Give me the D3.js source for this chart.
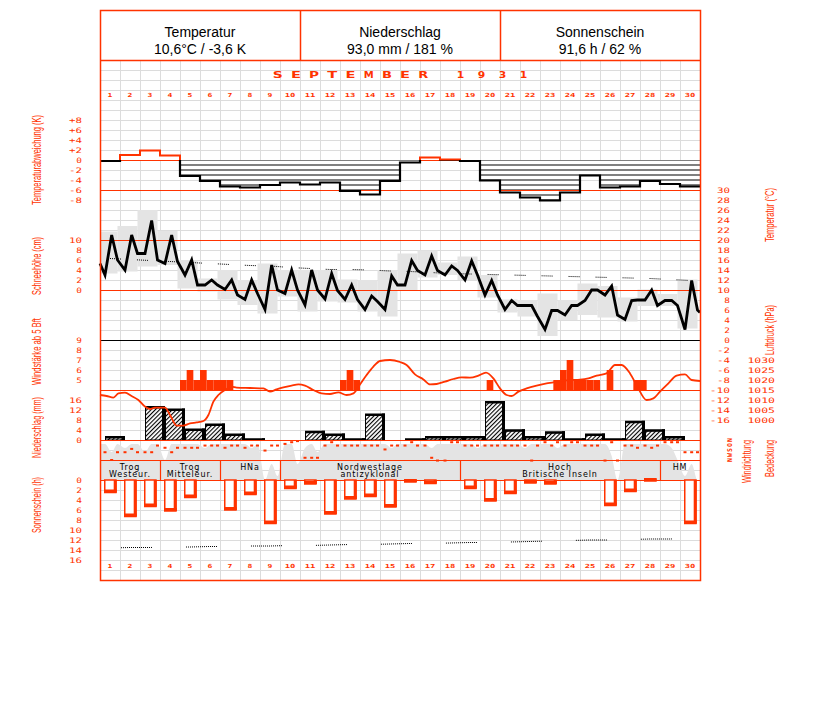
<!DOCTYPE html>
<html>
<head>
<meta charset="utf-8">
<title>September 1931</title>
<script src="https://cdn.jsdelivr.net/npm/d3@7/dist/d3.min.js"></script>
<style>
  body { margin: 0; background: #fff; }
</style>
</head>
<body>
<div id="chart"></div>
<script>
// ---- data ----
const days = [1,2,3,4,5,6,7,8,9,10,11,12,13,14,15,16,17,18,19,20,21,22,23,24,25,26,27,28,29,30];
const readingHours = [6, 14, 21];

const header = ['Temperatur', 'Niederschlag', 'Sonnenschein'];
const headerValues = ['10,6°C / -3,6 K', '93,0 mm / 181 %', '91,6 h / 62 %'];

// daily temperature anomaly (K)
const anomaly = [-0.2, 1.0, 1.9, 0.9, -3.2, -4.2, -5.3, -5.5, -5.0, -4.5, -4.9, -4.5, -6.2, -6.9, -4.2,
                 -0.5, 0.5, 0.1, -0.2, -4.1, -6.5, -7.5, -8.1, -6.5, -3.1, -5.5, -5.3, -4.2, -4.8, -5.3];

// temperature readings (°C)
const temp06 = [13, 14, 17.3, 15.3, 13, 11, 10.1, 8.1, 6.1, 9.3, 7, 8.2, 8.1, 6.1, 6.1,
                11, 13, 13, 12, 9, 6.1, 6.9, 2.1, 5, 7.9, 9, 4.1, 8, 7.9, 2.1];
const temp14 = [21, 21, 23.9, 21, 16, 12, 12, 12, 15, 14, 14, 13.3, 11, 8.8, 12.8,
                15.9, 16.8, 14.8, 15.8, 11.9, 7.9, 6.9, 5.9, 6.9, 10, 10.8, 7.9, 10, 7.9, 11.9];
const temp21 = [16, 17.3, 16, 15.7, 11, 11, 9, 9.3, 10, 10, 10, 9.9, 8.1, 7.7, 11,
                13.9, 13.9, 13.9, 13, 9, 6.9, 4.7, 5.9, 6.9, 10, 5, 8, 6.9, 6.9, 6];
const tempEdges = [15.3, 5.5]; // value at start and end of the month
const tempMax = [21.7, 22.8, 26, 21.8, 16, 12.3, 14, 12, 15.3, 14, 14, 14, 12.1, 12, 14,
                 17.3, 17.9, 15.5, 16.7, 13, 8.1, 8, 9.3, 8, 11.3, 10.8, 8.5, 10.1, 9.2, 12.1];
const tempMin = [13.3, 13.7, 14.7, 15, 10.3, 9.7, 8.1, 7, 5.3, 8.7, 5.7, 7.7, 7.5, 5.7, 4.7,
                 10, 12.5, 13, 12, 8.5, 5.5, 4.7, 0.8, 4, 5, 4.5, 3.7, 6.8, 6.8, 2.3];
const tempNormal = [16.3, 16.1, 15.9, 15.7, 15.5, 15.3, 15.1, 14.9, 14.8, 14.5, 14.3, 14.1, 14.1, 14.0, 13.8,
                    13.7, 13.5, 13.3, 13.2, 13.1, 13.0, 12.9, 12.8, 12.7, 12.6, 12.5, 12.4, 12.3, 12.1, 11.9];

// wind force >= 5 Bft per reading (0 = below 5)
const wind06 = [0,0,0,0,5,6,5,0,0,0,0,0,5,0,0,0,0,0,0,0,0,0,0,6,5,0,0,5,0,0];
const wind14 = [0,0,0,0,6,5,5,0,0,0,0,0,6,0,0,0,0,0,0,5,0,0,0,7,5,6,0,0,0,0];
const wind21 = [0,0,0,0,5,5,0,0,0,0,0,0,5,0,0,0,0,0,0,0,0,0,5,5,5,0,5,0,0,0];

// air pressure [day position, hPa]
const pressure = [[0,1012.5],[0.33,1012],[0.67,1011.2],[0.92,1013.3],[1.25,1013.7],[1.58,1012],[1.92,1010],
  [2.25,1006.7],[2.5,1005.5],[2.75,1006.2],[3.25,1006.2],[3.5,1002.5],[3.83,997.2],[4.17,997.2],[4.5,998.3],
  [4.83,998.8],[5.17,999.5],[5.42,1002.5],[5.67,1009.2],[5.92,1012.5],[6.25,1015],[6.58,1016.7],[6.83,1016.2],
  [7.5,1016],[8.17,1015.8],[8.5,1014.2],[8.83,1015.3],[9.17,1016.3],[9.58,1017.2],[9.92,1017.8],[10.25,1017.2],
  [10.67,1015],[11.08,1013.3],[11.5,1013],[11.92,1013.8],[12.33,1012.5],[12.67,1013.3],[13,1017.8],[13.33,1022.5],
  [13.67,1026.7],[14,1029.5],[14.5,1030],[15,1029],[15.33,1027.5],[15.75,1022.8],[16.17,1020.3],[16.5,1017.8],
  [16.83,1018],[17.25,1019.2],[17.67,1020.5],[18.08,1021.3],[18.5,1021.2],[18.92,1022.2],[19.3,1023.7],
  [19.67,1020.8],[20,1015.8],[20.33,1012.5],[20.58,1012],[20.92,1014.2],[21.33,1015.8],[21.83,1017.2],
  [22.33,1018.3],[22.67,1018.8],[23,1019.5],[23.5,1020],[24,1020.2],[24.42,1020.8],[24.83,1022.2],[25.33,1023.3],
  [25.75,1027.5],[26.08,1027.5],[26.5,1023.3],[26.83,1017.5],[27.33,1010],[27.67,1010.8],[28,1014.2],
  [28.42,1018.3],[28.83,1022.2],[29.25,1022.8],[29.58,1020],[30,1019.5]];

// precipitation (mm), measured 6 h to 6 h
const precip = [1.0, 0, 13.0, 12, 4, 6, 2, 0.1, 0, 0, 3.1, 2, 0.1, 10, 0,
                0.1, 1, 1, 1, 15, 3.7, 1, 2.9, 0.1, 2, 0.1, 7.1, 3.7, 1, 0];

// cloud cover (tenths) per reading
const cloud06 = [9,8,7,5,9,8,9,9,0,9,8,9,9,9,9,9,9,9,9,9,9,8,9,9,9,9,9,9,9,1];
const cloud14 = [7,9,9,9,9,9,9,8,4,9,9,9,9,9,8,9,8,9,9,9,9,9,9,9,9,6,9,9,8,4];
const cloud21 = [9,9,9,9,9,9,9,9,1,4,7,9,9,9,9,9,9,9,8,9,9,9,8,9,9,0,9,9,5,0];

// wind direction (degrees, 360 = N at the bottom) per reading
const dir06 = [220,220,220,140,140,100,140,140,190,70,320,100,100,100,170,100,100,370,100,100,100,100,40,100,100,370,100,100,40,220];
const dir14 = [360,160,220,220,140,100,100,100,100,40,320,40,100,100,100,40,320,40,100,100,100,370,100,40,100,40,100,140,40,220];
const dir21 = [220,220,100,140,140,100,100,100,100,20,320,100,100,100,100,100,370,40,100,100,100,100,40,40,100,370,140,100,40,220];

// weather types
const typeLabels = [['Trog', 'Westeur.'], ['Trog', 'Mitteleur.'], ['HNa'], ['Nordwestlage', 'antizyklonal'],
                    ['Hoch', 'Britische Inseln'], ['HM']];
const typeFirst = [1, 4, 7, 10, 19, 29];
const typeLast = [3, 6, 9, 18, 28, 30];

// sunshine (h) and possible sunshine (h)
const sunshine = [2.5, 7.3, 5.3, 6.2, 3.5, 0, 6.0, 2.9, 8.7, 1.7, 0.8, 6.8, 3.8, 3.3, 5.4,
                  0.4, 0.7, 0, 1.7, 4.2, 2.7, 0.6, 0.8, 0, 0, 5.1, 2.3, 0.2, 0, 8.7];
const sunPossible = [13.6, 13.5, 13.5, 13.4, 13.4, 13.3, 13.3, 13.2, 13.2, 13.1, 13.1, 13.0, 12.9, 12.9, 12.8,
                     12.7, 12.7, 12.6, 12.5, 12.5, 12.4, 12.3, 12.2, 12.1, 12.0, 12.0, 11.9, 11.8, 11.8, 11.7];

// tick labels
const anomTicks = [8, 6, 4, 2, 0, -2, -4, -6, -8];
const snowTicks = [10, 8, 6, 4, 2, 0];
const windTicks = [9, 8, 7, 6, 5];
const precipTicks = [16, 12, 8, 4, 0];
const sunTicks = [0, 2, 4, 6, 8, 10, 12, 14, 16];
const tempTicks = [30,28,26,24,22,20,18,16,14,12,10,8,6,4,2,0,-2,-4,-6,-8,-10,-12,-14,-16];
const pressTicks = [1030, 1025, 1020, 1015, 1010, 1005, 1000];
const dirTicks = [[0,'N'],[90,'O'],[180,'S'],[270,'W'],[360,'N']];

// ---- layout ----
const W = 827, H = 702;
const L = 100, R = 700, TOP = 60, BOT = 580;
const RED = '#ff3300', GRAY = '#e4e4e4', GRID = '#dcdcdc';
const PIX = 'DejaVu Sans Mono';

const svg = d3.select('#chart').append('svg')
    .attr('width', W)
    .attr('height', H)
    .style('background', '#fff');

const x = d3.scaleLinear().domain([0, 30]).range([L, R]);
const xDay = d3.scaleBand().domain(days).range([L, R]);
const yAnom = d3.scaleLinear().domain([0, -8]).range([160, 200]);
const yTemp = d3.scaleLinear().domain([0, 30]).range([340, 190]);
const ySnow = d3.scaleLinear().domain([0, 10]).range([290, 240]);
const yWind = d3.scaleLinear().domain([4, 9]).range([390, 340]);
const yPres = d3.scaleLinear().domain([1000, 1030]).range([420, 360]);
const yPrec = d3.scaleLinear().domain([0, 16]).range([440, 400]);
const yCloud = d3.scaleLinear().domain([0, 10]).range([480, 440]);
const yDir = d3.scaleLinear().domain([0, 360]).range([440, 460]);
const ySun = d3.scaleLinear().domain([0, 16]).range([480, 560]);

const defs = svg.append('defs');
const hl = defs.append('pattern').attr('id', 'hlines')
    .attr('patternUnits', 'userSpaceOnUse').attr('x', 0).attr('y', 159.5)
    .attr('width', 10).attr('height', 5);
hl.append('rect').attr('width', 10).attr('height', 5).attr('fill', '#fff');
hl.append('rect').attr('width', 10).attr('height', 1).attr('fill', '#000');
const dg = defs.append('pattern').attr('id', 'diag')
    .attr('patternUnits', 'userSpaceOnUse').attr('width', 3).attr('height', 3)
    .attr('patternTransform', 'rotate(45)');
dg.append('rect').attr('width', 3).attr('height', 3).attr('fill', '#fff');
dg.append('rect').attr('width', 1.1).attr('height', 3).attr('fill', '#000');
defs.append('clipPath').attr('id', 'above').append('rect')
    .attr('x', L).attr('y', 100).attr('width', R - L).attr('height', 60);
defs.append('clipPath').attr('id', 'below').append('rect')
    .attr('x', L).attr('y', 160).attr('width', R - L).attr('height', 60);
defs.append('clipPath').attr('id', 'plot').append('rect')
    .attr('x', L).attr('y', TOP).attr('width', R - L).attr('height', BOT - TOP);

// ---- grid ----
const grid = svg.append('g').attr('shape-rendering', 'crispEdges');
grid.selectAll('line.h').data(d3.range(TOP + 10, BOT, 10)).join('line')
    .attr('x1', L).attr('x2', R).attr('y1', d => d + 0.5).attr('y2', d => d + 0.5)
    .attr('stroke', GRID);
grid.selectAll('line.v').data(days.slice(1)).join('line')
    .attr('x1', d => xDay(d) + 0.5).attr('x2', d => xDay(d) + 0.5)
    .attr('y1', TOP).attr('y2', BOT)
    .attr('stroke', GRID);

const plot = svg.append('g').attr('clip-path', 'url(#plot)');

// ---- temperature min/max boxes ----
plot.append('g').selectAll('rect').data(days).join('rect')
    .attr('x', (d, i) => x(Math.max(0, i - 3 / 24)))
    .attr('width', (d, i) => x(i + 21 / 24) - x(Math.max(0, i - 3 / 24)))
    .attr('y', (d, i) => yTemp(tempMax[i]))
    .attr('height', (d, i) => yTemp(tempMin[i]) - yTemp(tempMax[i]))
    .attr('fill', GRAY);

// ---- cloud cover ----
const cloudPts = [{ t: 0, v: cloud06[0] }];
days.forEach((d, i) => {
    [cloud06, cloud14, cloud21].forEach((arr, k) => cloudPts.push({ t: i + readingHours[k] / 24, v: arr[i] }));
});
cloudPts.push({ t: 30, v: cloud21[29] });
plot.append('path').datum(cloudPts)
    .attr('d', d3.area().curve(d3.curveMonotoneX).x(d => x(d.t)).y0(yCloud(0)).y1(d => yCloud(d.v)))
    .attr('fill', GRAY);

// ---- temperature anomaly ----
const anomPts = anomaly.map((v, i) => ({ t: i, v }));
anomPts.push({ t: 30, v: anomaly[29] });
plot.append('path').datum(anomPts)
    .attr('d', d3.area().curve(d3.curveStepAfter).x(d => x(d.t)).y0(yAnom(0)).y1(d => yAnom(Math.min(0, d.v))))
    .attr('fill', 'url(#hlines)');
plot.append('path').datum(anomPts)
    .attr('d', d3.area().curve(d3.curveStepAfter).x(d => x(d.t)).y0(yAnom(0)).y1(d => yAnom(Math.max(0, d.v))))
    .attr('fill', '#fff');
plot.append('g').selectAll('line').data(days.filter((d, i) => anomaly[i] > 0)).join('line')
    .attr('x1', d => xDay(d)).attr('x2', d => xDay(d) + xDay.bandwidth())
    .attr('y1', yAnom(0) + 0.5).attr('y2', yAnom(0) + 0.5)
    .attr('stroke', RED);
const anomLine = d3.line().curve(d3.curveStepAfter).x(d => x(d.t)).y(d => yAnom(d.v));
svg.append('path').datum(anomPts).attr('d', anomLine).attr('clip-path', 'url(#above)')
    .attr('fill', 'none').attr('stroke', RED).attr('stroke-width', 2);

// ---- wind force bars ----
const windBars = [];
days.forEach((d, i) => {
    [wind06, wind14, wind21].forEach((arr, k) => { if (arr[i] >= 5) windBars.push({ t: i + k / 3, v: arr[i] }); });
});
plot.append('g').selectAll('rect').data(windBars).join('rect')
    .attr('x', d => x(d.t)).attr('width', x(1 / 3) - x(0))
    .attr('y', d => yWind(d.v)).attr('height', d => yWind(4) - yWind(d.v))
    .attr('fill', RED);

// ---- precipitation bars ----
const precG = plot.append('g');
days.forEach((d, i) => {
    if (precip[i] <= 0) return;
    const x0 = x(i + 0.25), x1 = x(i + 1.25), y1 = yPrec(precip[i]);
    precG.append('rect').attr('x', x0 + 0.5).attr('y', y1).attr('width', x1 - x0 - 1).attr('height', yPrec(0) - y1)
        .attr('fill', 'url(#diag)').attr('stroke', '#000').attr('stroke-width', 1);
    precG.append('rect').attr('x', x0).attr('y', y1 - 1.5).attr('width', x1 - x0).attr('height', 2.5).attr('fill', '#000');
    precG.append('rect').attr('x', x1 - 3).attr('y', y1 - 1.5).attr('width', 3).attr('height', yPrec(0) - y1 + 1.5).attr('fill', '#000');
});

// ---- panel lines ----
const panelLines = [[190, RED], [240, RED], [290, RED], [340, '#000'], [390, RED], [440, RED], [460, RED], [480, RED]];
svg.append('g').attr('shape-rendering', 'crispEdges').selectAll('line').data(panelLines).join('line')
    .attr('x1', L).attr('x2', R).attr('y1', d => d[0] + 0.5).attr('y2', d => d[0] + 0.5)
    .attr('stroke', d => d[1]).attr('stroke-width', 1.2);

// anomaly bottom outline drawn over the panel line
svg.append('path').datum(anomPts).attr('d', anomLine).attr('clip-path', 'url(#below)')
    .attr('fill', 'none').attr('stroke', '#000').attr('stroke-width', 2.2);

// dotted helper
function dots(n, gap) {
    const a = [];
    for (let i = 0; i < n; i++) a.push(1, 1);
    a[a.length - 1] = gap;
    return a.join(',');
}

// ---- normal temperature ----
svg.append('path').datum(tempNormal)
    .attr('d', d3.line().x((v, i) => x(i + 0.5)).y(v => yTemp(v)))
    .attr('fill', 'none').attr('stroke', '#000').attr('stroke-width', 1)
    .attr('stroke-dasharray', dots(6, 16));

// ---- temperature curve ----
const tempPts = [{ t: 0, v: tempEdges[0] }];
days.forEach((d, i) => {
    [temp06, temp14, temp21].forEach((arr, k) => tempPts.push({ t: i + readingHours[k] / 24, v: arr[i] }));
});
tempPts.push({ t: 30, v: tempEdges[1] });
svg.append('path').datum(tempPts)
    .attr('d', d3.line().x(d => x(d.t)).y(d => yTemp(d.v)))
    .attr('fill', 'none').attr('stroke', '#000').attr('stroke-width', 2.8).attr('stroke-linejoin', 'miter');

// ---- pressure curve ----
svg.append('path').datum(pressure)
    .attr('d', d3.line().curve(d3.curveMonotoneX).x(d => x(d[0])).y(d => yPres(d[1])))
    .attr('fill', 'none').attr('stroke', RED).attr('stroke-width', 1.8);

// ---- wind direction ----
const dirPts = [];
days.forEach((d, i) => {
    [dir06, dir14, dir21].forEach((arr, k) => dirPts.push({ t: i + readingHours[k] / 24, v: arr[i] }));
});
plot.append('g').selectAll('rect').data(dirPts).join('rect')
    .attr('x', d => x(d.t) - 1.5).attr('y', d => yDir(d.v) - 1)
    .attr('width', 3).attr('height', 2).attr('fill', RED);

// ---- weather types ----
const typeG = svg.append('g');
typeLabels.forEach((lines, i) => {
    const x0 = xDay(typeFirst[i]), x1 = xDay(typeLast[i]) + xDay.bandwidth();
    if (typeLast[i] < 30) {
        typeG.append('line').attr('x1', x1 + 0.5).attr('x2', x1 + 0.5).attr('y1', 460).attr('y2', 480)
            .attr('stroke', RED).attr('stroke-width', 1.2);
    }
    lines.forEach((s, k) => {
        typeG.append('text').attr('x', (x0 + x1) / 2).attr('y', 469.5 + k * 7.5)
            .attr('text-anchor', 'middle').attr('font-family', 'DejaVu Sans').attr('font-size', 8)
            .attr('letter-spacing', 0.9).attr('fill', '#000').text(s);
    });
});

// ---- sunshine ----
const sunG = svg.append('g');
days.forEach((d, i) => {
    if (sunshine[i] <= 0) return;
    const x0 = xDay(d) + 4, w = 12.7, y1 = ySun(sunshine[i]);
    sunG.append('rect').attr('x', x0 + 0.75).attr('y', 480).attr('width', w - 1.5).attr('height', y1 - 480)
        .attr('fill', '#fff').attr('stroke', RED).attr('stroke-width', 1.5);
    sunG.append('rect').attr('x', x0 + w - 3).attr('y', 480).attr('width', 3).attr('height', y1 - 480).attr('fill', RED);
    sunG.append('rect').attr('x', x0).attr('y', y1 - 3).attr('width', w).attr('height', 3).attr('fill', RED);
});
svg.append('path').datum(sunPossible)
    .attr('d', d3.line().x((v, i) => x(i + 0.5)).y(v => ySun(v)))
    .attr('fill', 'none').attr('stroke', '#000').attr('stroke-width', 1)
    .attr('stroke-dasharray', dots(16, 34)).attr('stroke-dashoffset', 54);

// ---- frame and header ----
svg.append('rect').attr('x', L + 0.5).attr('y', 10.5).attr('width', R - L).attr('height', BOT - 10)
    .attr('fill', 'none').attr('stroke', RED).attr('stroke-width', 1.5);
svg.append('line').attr('x1', L).attr('x2', R).attr('y1', TOP + 0.5).attr('y2', TOP + 0.5)
    .attr('stroke', RED).attr('stroke-width', 1.5);
const cellW = (R - L) / header.length;
header.forEach((h, i) => {
    if (i > 0) {
        svg.append('line').attr('x1', L + i * cellW + 0.5).attr('x2', L + i * cellW + 0.5)
            .attr('y1', 10).attr('y2', TOP).attr('stroke', RED).attr('stroke-width', 1.5);
    }
    const cx = L + (i + 0.5) * cellW;
    svg.append('text').attr('x', cx).attr('y', 37.3).attr('text-anchor', 'middle')
        .attr('font-family', 'Liberation Sans, Arial, sans-serif').attr('font-size', 14).text(h);
    svg.append('text').attr('x', cx).attr('y', 54.3).attr('text-anchor', 'middle')
        .attr('font-family', 'Liberation Sans, Arial, sans-serif').attr('font-size', 14).text(headerValues[i]);
});

// title: wide, spaced capitals
[['SEPTEMBER', 272.7, 18.2, 10], ['1931', 456.7, 21, 7.5]].forEach(([s, x0, step, cw]) => {
    svg.append('g').selectAll('text').data(s.split('')).join('text')
        .attr('x', (c, k) => x0 + k * step).attr('y', 78.3)
        .attr('font-family', 'DejaVu Sans').attr('font-weight', 'bold').attr('font-size', 9.5)
        .attr('textLength', cw).attr('lengthAdjust', 'spacingAndGlyphs')
        .attr('fill', RED).text(c => c);
});

// day numbers
[97.3, 567.7].forEach(yy => {
    svg.append('g').selectAll('text').data(days).join('text')
        .attr('x', d => xDay(d) + xDay.bandwidth() / 2).attr('y', yy)
        .attr('text-anchor', 'middle')
        .attr('font-family', PIX).attr('font-weight', 'bold').attr('font-size', 5.6)
        .attr('textLength', d => String(d).length * 5.85 - 1)
        .attr('lengthAdjust', 'spacingAndGlyphs')
        .attr('fill', RED).text(d => d);
});

// ---- axes ----
function pixelAxis(scale, ticks, fmt, xpos) {
    const g = svg.append('g').attr('transform', `translate(${xpos},0)`)
        .call(d3.axisLeft(scale).tickValues(ticks).tickSize(0).tickPadding(0).tickFormat(fmt));
    g.select('.domain').remove();
    g.selectAll('text')
        .attr('fill', RED).attr('font-family', PIX).attr('font-size', 7.5)
        .attr('textLength', function () { return this.textContent.length * 7.3 - 1.6; })
        .attr('lengthAdjust', 'spacingAndGlyphs');
    return g;
}
const signFmt = d => d > 0 ? '+' + d : d < 0 ? '-' + (-d) : '0';
const plainFmt = d => d < 0 ? '-' + (-d) : String(d);
pixelAxis(yAnom, anomTicks, signFmt, 82);
pixelAxis(ySnow, snowTicks, plainFmt, 82);
pixelAxis(yWind, windTicks, plainFmt, 82);
pixelAxis(yPrec, precipTicks, plainFmt, 82);
pixelAxis(ySun, sunTicks, plainFmt, 82);
pixelAxis(yTemp, tempTicks, plainFmt, 730);
pixelAxis(yPres, pressTicks, plainFmt, 775);

// wind direction letters
svg.append('g').selectAll('text').data(dirTicks).join('text')
    .attr('transform', d => `translate(731.5,${yDir(d[0])}) rotate(-90)`)
    .attr('text-anchor', 'middle')
    .attr('font-family', PIX).attr('font-weight', 'bold').attr('font-size', 6.5)
    .attr('fill', RED).text(d => d[1]);

// rotated axis titles
const titles = [
    ['Temperaturabweichung (K)', 40.5, 160, 90],
    ['Schneehöhe (cm)', 40.5, 266, 58],
    ['Windstärke ab 5 Bft', 40.5, 351.5, 67],
    ['Niederschlag (mm)', 40.5, 427.5, 61],
    ['Sonnenschein (h)', 40.5, 505, 56],
    ['Temperatur (°C)', 774, 215, 54],
    ['Luftdruck (hPa)', 774, 330, 50],
    ['Windrichtung', 751, 461.5, 43],
    ['Bedeckung', 774, 458.5, 37]
];
svg.append('g').selectAll('text').data(titles).join('text')
    .attr('transform', d => `translate(${d[1]},${d[2]}) rotate(-90)`)
    .attr('text-anchor', 'middle')
    .attr('font-family', 'Liberation Sans Narrow, Liberation Sans, Arial, sans-serif')
    .attr('font-size', 12)
    .attr('textLength', d => d[3])
    .attr('lengthAdjust', 'spacingAndGlyphs')
    .attr('fill', RED).text(d => d[0]);
</script>
</body>
</html>
